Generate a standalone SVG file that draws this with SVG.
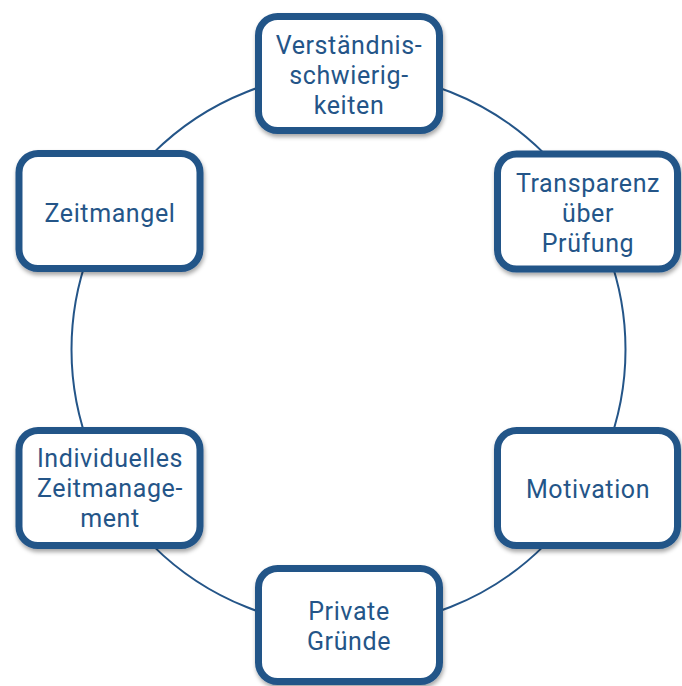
<svg xmlns="http://www.w3.org/2000/svg" width="682" height="686" viewBox="0 0 682 686">
  <defs>
    <filter id="sh" x="-10%" y="-10%" width="125%" height="130%">
      <feDropShadow dx="1" dy="3" stdDeviation="2" flood-color="#000" flood-opacity="0.35"/>
    </filter>
  </defs>
  <style>
    .box { fill: #ffffff; stroke: #245588; stroke-width: 7; filter: url(#sh); }
    .lbl { font-family: Roboto, "Open Sans", "Liberation Sans", sans-serif; font-size: 25px; letter-spacing: 0.6px; fill: #245588; text-anchor: middle; }
    .ring { fill: none; stroke: #245588; stroke-width: 2; }
  </style>
  <rect width="682" height="686" fill="#ffffff"/>
  <g id="connectors">
    <circle class="ring" cx="348.5" cy="349.5" r="277"/>
  </g>
  <g id="n1">
    <rect class="box" x="258.5" y="16.5" width="181" height="114" rx="19"/>
    <text class="lbl"><tspan x="349" y="54">Verständnis-</tspan><tspan x="349" y="84">schwierig-</tspan><tspan x="349" y="114">keiten</tspan></text>
  </g>
  <g id="n2">
    <rect class="box" x="497.5" y="154" width="180" height="115" rx="19"/>
    <text class="lbl"><tspan x="588" y="192">Transparenz</tspan><tspan x="588" y="222">über</tspan><tspan x="588" y="252">Prüfung</tspan></text>
  </g>
  <g id="n3">
    <rect class="box" x="497.5" y="430.5" width="180" height="115" rx="19"/>
    <text class="lbl" x="588" y="498">Motivation</text>
  </g>
  <g id="n4">
    <rect class="box" x="258.5" y="568.5" width="181" height="113" rx="19"/>
    <text class="lbl"><tspan x="349" y="620">Private</tspan><tspan x="349" y="650">Gründe</tspan></text>
  </g>
  <g id="n5">
    <rect class="box" x="19" y="430.5" width="181" height="115" rx="19"/>
    <text class="lbl"><tspan x="110" y="467">Individuelles</tspan><tspan x="110" y="497">Zeitmanage-</tspan><tspan x="110" y="527">ment</tspan></text>
  </g>
  <g id="n6">
    <rect class="box" x="19" y="153.5" width="181" height="115" rx="19"/>
    <text class="lbl" x="110" y="222">Zeitmangel</text>
  </g>
</svg>
